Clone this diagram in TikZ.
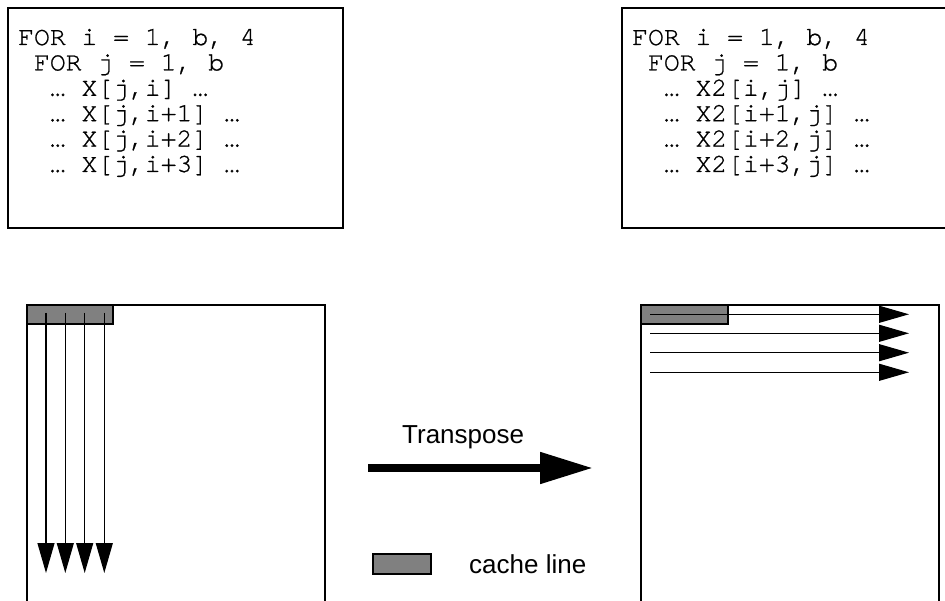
\documentclass[tikz,border=0pt]{standalone}
\usepackage{fontspec}
\setmainfont{Liberation Sans}
\setmonofont[FakeBold=0.8]{texgyrecursor-regular.otf}
\usetikzlibrary{arrows.meta}
\definecolor{cachegray}{RGB}{128,128,128}
\begin{document}
\begin{tikzpicture}[x=1pt,y=-1pt,
  frame/.style={draw=black,line width=1.2pt,inner sep=0pt,outer sep=0pt,anchor=north west},
  cacheline/.style={frame,fill=cachegray},
  codeline/.style={anchor=base west,inner sep=0pt,font=\ttfamily\fontsize{26.4}{26.4}\selectfont},
  access/.style={line width=1.2pt,-{Triangle[length=30pt,width=17pt]}},
  plaintext/.style={anchor=base west,inner sep=0pt,font=\fontsize{26}{26}\selectfont},
  bigarrow/.style={line width=8pt,-{Triangle[length=53pt,width=30pt]}}]
\useasboundingbox (0,0) rectangle (945,601);
\clip (0,0) rectangle (945,601);

% loop nests
\node[frame,minimum width=335pt,minimum height=220pt] (codeL) at (8,8) {};
\node[frame,minimum width=335pt,minimum height=220pt] (codeR) at (622,8) {};

\foreach \t [count=\n from 0] in {
  {FOR i = 1, b, 4},
  {~FOR j = 1, b},
  {~~… X[j,i] …},
  {~~… X[j,i+1] …},
  {~~… X[j,i+2] …},
  {~~… X[j,i+3] …}}
  \node[codeline] (cl\n) at (18,45+25.4*\n) {\t};

\foreach \t [count=\n from 0] in {
  {FOR i = 1, b, 4},
  {~FOR j = 1, b},
  {~~… X2[i,j] …},
  {~~… X2[i+1,j] …},
  {~~… X2[i+2,j] …},
  {~~… X2[i+3,j] …}}
  \node[codeline] (cr\n) at (632,45+25.4*\n) {\t};

% matrices
\node[frame,minimum width=298pt,minimum height=330pt] (matL) at (27,305) {};
\node[frame,minimum width=298pt,minimum height=330pt] (matR) at (641,305) {};

% cache lines
\node[cacheline,minimum width=86pt,minimum height=19pt] (lineL) at (27,305) {};
\node[cacheline,minimum width=87pt,minimum height=19pt] (lineR) at (641,305) {};

% column-wise accesses
\foreach \x [count=\n] in {46,65.3,84.7,104.3} {
  \coordinate (dS\n) at (\x,313);
  \coordinate (dE\n) at (\x,573);
  \draw[access] (dS\n) -- (dE\n);
}

% row-wise accesses
\foreach \y [count=\n] in {314.3,333.3,352.7,372.3} {
  \coordinate (rS\n) at (650,\y);
  \coordinate (rE\n) at (909,\y);
  \draw[access] (rS\n) -- (rE\n);
}

% transpose step
\node[plaintext] (tlab) at (402,443) {Transpose};
\coordinate (tS) at (368,468);
\coordinate (tE) at (593,468);
\draw[bigarrow] (tS) -- (tE);

% legend
\node[cacheline,minimum width=58pt,minimum height=20pt] (key) at (373,554) {};
\node[plaintext] (keylab) at (469,573) {cache line};
\end{tikzpicture}
\end{document}
